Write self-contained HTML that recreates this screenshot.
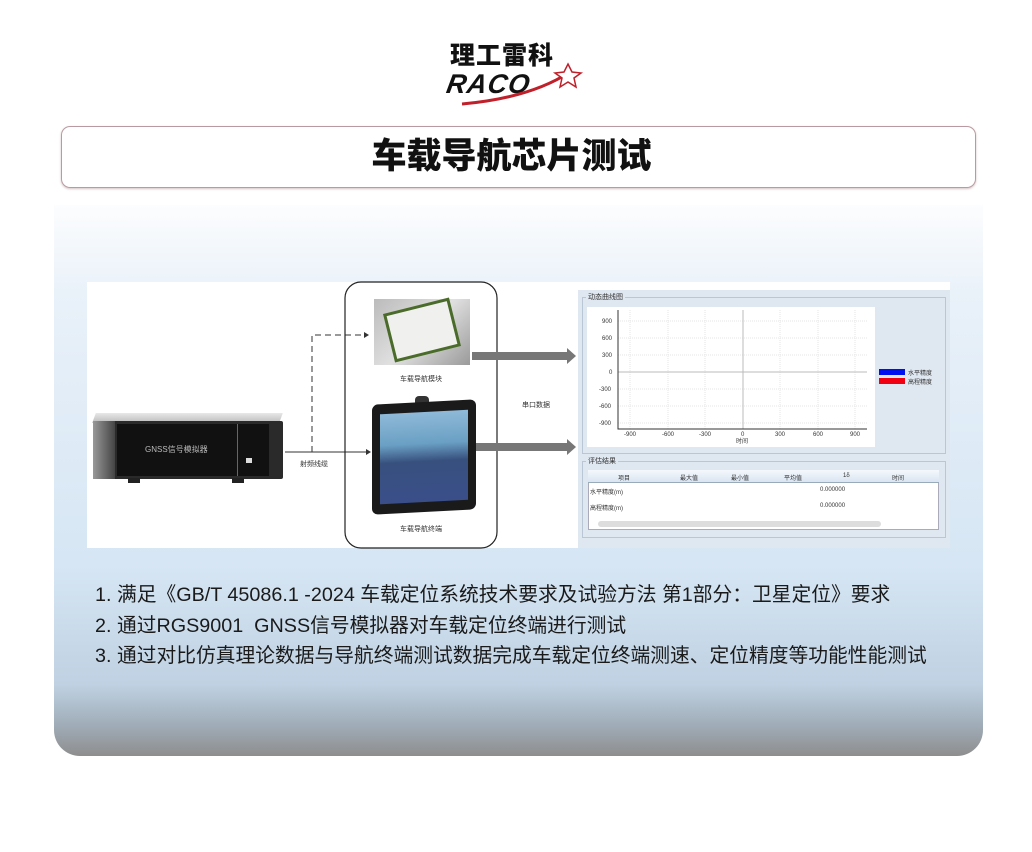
<!DOCTYPE html>
<html><head><meta charset="utf-8"><style>
*{margin:0;padding:0;box-sizing:border-box}
body{width:1032px;height:852px;background:#fff;position:relative;overflow:hidden;font-family:"Liberation Sans","Noto Sans CJK SC",sans-serif}
.a{position:absolute}
.cn{font-family:"Liberation Sans","Noto Sans CJK SC",sans-serif}
.sm{font-size:7px;color:#333;white-space:nowrap}
</style></head><body>
<!-- logo -->
<div class="a cn" style="left:450px;top:42px;font-size:25px;font-weight:900;letter-spacing:1px;color:#111;line-height:28px">理工雷科</div>
<div class="a" style="left:447px;top:70px;font-size:27px;font-weight:900;font-style:italic;color:#111;line-height:28px;letter-spacing:1px;transform:skewX(-10deg)">RACO</div>
<svg class="a" style="left:440px;top:60px" width="160" height="50"><path d="M22 44 Q90 38 130 12" stroke="#c0202a" stroke-width="3" fill="none"/><path d="M128 4 l4 8 l9 1 l-7 5 l2 9 l-8 -5 l-8 5 l2 -9 l-7 -5 l9 -1z" fill="#fff" stroke="#c0202a" stroke-width="1.5"/></svg>
<!-- title -->
<div class="a" style="left:61px;top:126px;width:915px;height:62px;border:1.5px solid #b89aa0;border-radius:9px;box-shadow:0 1px 2px rgba(150,100,110,.4)"></div>
<div class="a cn" style="left:54px;top:134px;width:915px;text-align:center;font-size:35px;font-weight:900;color:#111;line-height:46px">车载导航芯片测试</div>
<!-- panel -->
<div class="a" style="left:54px;top:205px;width:929px;height:551px;border-radius:0 0 26px 26px;background:linear-gradient(#fcfdfe 0px,#e9f1f9 90px,#d6e6f4 360px,#bfd1e2 480px,#a0adb8 520px,#8e8e8e 551px)"></div>
<!-- diagram -->
<div class="a" style="left:87px;top:282px;width:863px;height:266px;background:#fff"></div>
<!-- simulator -->
<div class="a" style="left:94px;top:413px;width:187px;height:10px;background:linear-gradient(#e8e8e8,#bbb);transform:skewX(-20deg)"></div>
<div class="a" style="left:93px;top:421px;width:190px;height:58px;background:#2a2a2a;border-radius:2px"></div>
<div class="a" style="left:93px;top:421px;width:22px;height:58px;background:linear-gradient(90deg,#999,#444)"></div>
<div class="a" style="left:117px;top:424px;width:152px;height:52px;background:#111"></div>
<div class="a" style="left:237px;top:424px;width:1px;height:52px;background:#666"></div>
<div class="a sm" style="left:145px;top:444px;color:#bbb;font-size:8px">GNSS信号模拟器</div>
<div class="a" style="left:246px;top:458px;width:6px;height:5px;background:#ddd"></div>
<div class="a" style="left:128px;top:478px;width:12px;height:5px;background:#222"></div>
<div class="a" style="left:232px;top:478px;width:12px;height:5px;background:#222"></div>
<!-- connectors -->
<svg class="a" style="left:0;top:0" width="1032" height="560">
<path d="M285 452 H368" stroke="#333" stroke-width="1"/>
<path d="M366 449 l5 3 l-5 3z" fill="#333"/>
<path d="M312 452 V335 H365" stroke="#333" stroke-width="1" stroke-dasharray="6 4" fill="none"/>
<path d="M364 332 l5 3 l-5 3z" fill="#333"/>
<rect x="345" y="282" width="152" height="266" rx="16" fill="none" stroke="#222" stroke-width="1.2"/>
<rect x="472" y="352" width="96" height="8" fill="#777"/><path d="M567 348 l9 8 l-9 8z" fill="#777"/>
<rect x="472" y="443" width="96" height="8" fill="#777"/><path d="M567 439 l9 8 l-9 8z" fill="#777"/>
</svg>
<div class="a sm" style="left:300px;top:459px">射频线缆</div>
<div class="a sm" style="left:522px;top:400px">串口数据</div>
<div class="a sm" style="left:400px;top:374px">车载导航模块</div>
<div class="a sm" style="left:400px;top:524px">车载导航终端</div>
<!-- module photo -->
<div class="a" style="left:374px;top:299px;width:96px;height:66px;background:linear-gradient(135deg,#bbb,#e0e0e0,#9a9a9a)"></div>
<div class="a" style="left:388px;top:305px;width:68px;height:50px;background:#f0f0ee;transform:rotate(-14deg);border:3px solid #4a6b2a"></div>
<!-- tablet -->
<div class="a" style="left:415px;top:396px;width:14px;height:8px;background:#333;border-radius:4px 4px 0 0"></div>
<div class="a" style="left:372px;top:402px;width:104px;height:110px;background:#1a1a1a;border-radius:6px;transform:skewY(-3deg)"></div>
<div class="a" style="left:380px;top:412px;width:88px;height:90px;background:linear-gradient(#8fb9d8 0%,#6aa0c4 35%,#37507e 55%,#3a4f8a 100%);transform:skewY(-3deg)"></div>
<!-- GUI -->
<div class="a" style="left:578px;top:290px;width:372px;height:258px;background:#dfe7f0"></div>
<div class="a" style="left:582px;top:297px;width:364px;height:157px;border:1px solid #b8c6d6"></div>
<div class="a sm" style="left:586px;top:292px;background:#dfe7f0;padding:0 2px">动态曲线图</div>
<div class="a" style="left:587px;top:307px;width:288px;height:140px;background:#fff"></div>
<svg class="a" style="left:587px;top:307px" width="288" height="140">
<g stroke="#e6e6e6" stroke-width="1" stroke-dasharray="1 1">
<line x1="31" y1="14" x2="280" y2="14"/><line x1="31" y1="31" x2="280" y2="31"/><line x1="31" y1="48" x2="280" y2="48"/><line x1="31" y1="82" x2="280" y2="82"/><line x1="31" y1="99" x2="280" y2="99"/><line x1="31" y1="116" x2="280" y2="116"/>
<line x1="43" y1="3" x2="43" y2="122"/><line x1="81" y1="3" x2="81" y2="122"/><line x1="118" y1="3" x2="118" y2="122"/><line x1="193" y1="3" x2="193" y2="122"/><line x1="231" y1="3" x2="231" y2="122"/><line x1="268" y1="3" x2="268" y2="122"/>
</g>
<line x1="31" y1="65" x2="280" y2="65" stroke="#bbb"/><line x1="156" y1="3" x2="156" y2="122" stroke="#bbb"/>
<path d="M31 3 V122 H280" stroke="#333" fill="none"/>
<g font-size="6" fill="#333" font-family="Liberation Sans"><text x="15" y="16">900</text><text x="15" y="33">600</text><text x="15" y="50">300</text><text x="22" y="67">0</text><text x="12" y="84">-300</text><text x="12" y="101">-600</text><text x="12" y="118">-900</text>
<text x="37" y="129">-900</text><text x="75" y="129">-600</text><text x="112" y="129">-300</text><text x="154" y="129">0</text><text x="188" y="129">300</text><text x="226" y="129">600</text><text x="263" y="129">900</text><text x="149" y="136">时间</text></g>
</svg>
<div class="a" style="left:879px;top:369px;width:26px;height:6px;background:#0010ee"></div>
<div class="a" style="left:879px;top:378px;width:26px;height:6px;background:#f00010"></div>
<div class="a sm" style="left:908px;top:368px;font-size:6px">水平精度</div>
<div class="a sm" style="left:908px;top:377px;font-size:6px">高程精度</div>
<div class="a" style="left:582px;top:461px;width:364px;height:77px;border:1px solid #b8c6d6"></div>
<div class="a sm" style="left:586px;top:456px;background:#dfe7f0;padding:0 2px">评估结果</div>
<div class="a" style="left:588px;top:470px;width:351px;height:60px;background:#fff;border:1px solid #aab"></div>
<div class="a" style="left:588px;top:470px;width:351px;height:13px;background:linear-gradient(#f4f8fc,#d9e5f2);border-bottom:1px solid #9ab"></div>
<div class="a sm" style="left:618px;top:473px;font-size:6px">项目</div>
<div class="a sm" style="left:680px;top:473px;font-size:6px">最大值</div>
<div class="a sm" style="left:731px;top:473px;font-size:6px">最小值</div>
<div class="a sm" style="left:784px;top:473px;font-size:6px">平均值</div>
<div class="a sm" style="left:843px;top:473px;font-size:6px">1δ</div>
<div class="a sm" style="left:892px;top:473px;font-size:6px">时间</div>
<div class="a sm" style="left:590px;top:487px;font-size:6px">水平精度(m)</div>
<div class="a sm" style="left:590px;top:503px;font-size:6px">高程精度(m)</div>
<div class="a sm" style="left:820px;top:487px;font-size:6px">0.000000</div>
<div class="a sm" style="left:820px;top:503px;font-size:6px">0.000000</div>
<div class="a" style="left:598px;top:521px;width:283px;height:6px;background:#ddd;border-radius:3px"></div>
<!-- bullet text -->
<div class="a cn" style="left:95px;top:580px;font-size:19.75px;color:#1a1a1a;line-height:30.5px;white-space:nowrap">
1. 满足《GB/T 45086.1 -2024 车载定位系统技术要求及试验方法 第1部分：卫星定位》要求<br>
2. 通过RGS9001&nbsp; GNSS信号模拟器对车载定位终端进行测试<br>
3. 通过对比仿真理论数据与导航终端测试数据完成车载定位终端测速、定位精度等功能性能测试
</div>
</body></html>
